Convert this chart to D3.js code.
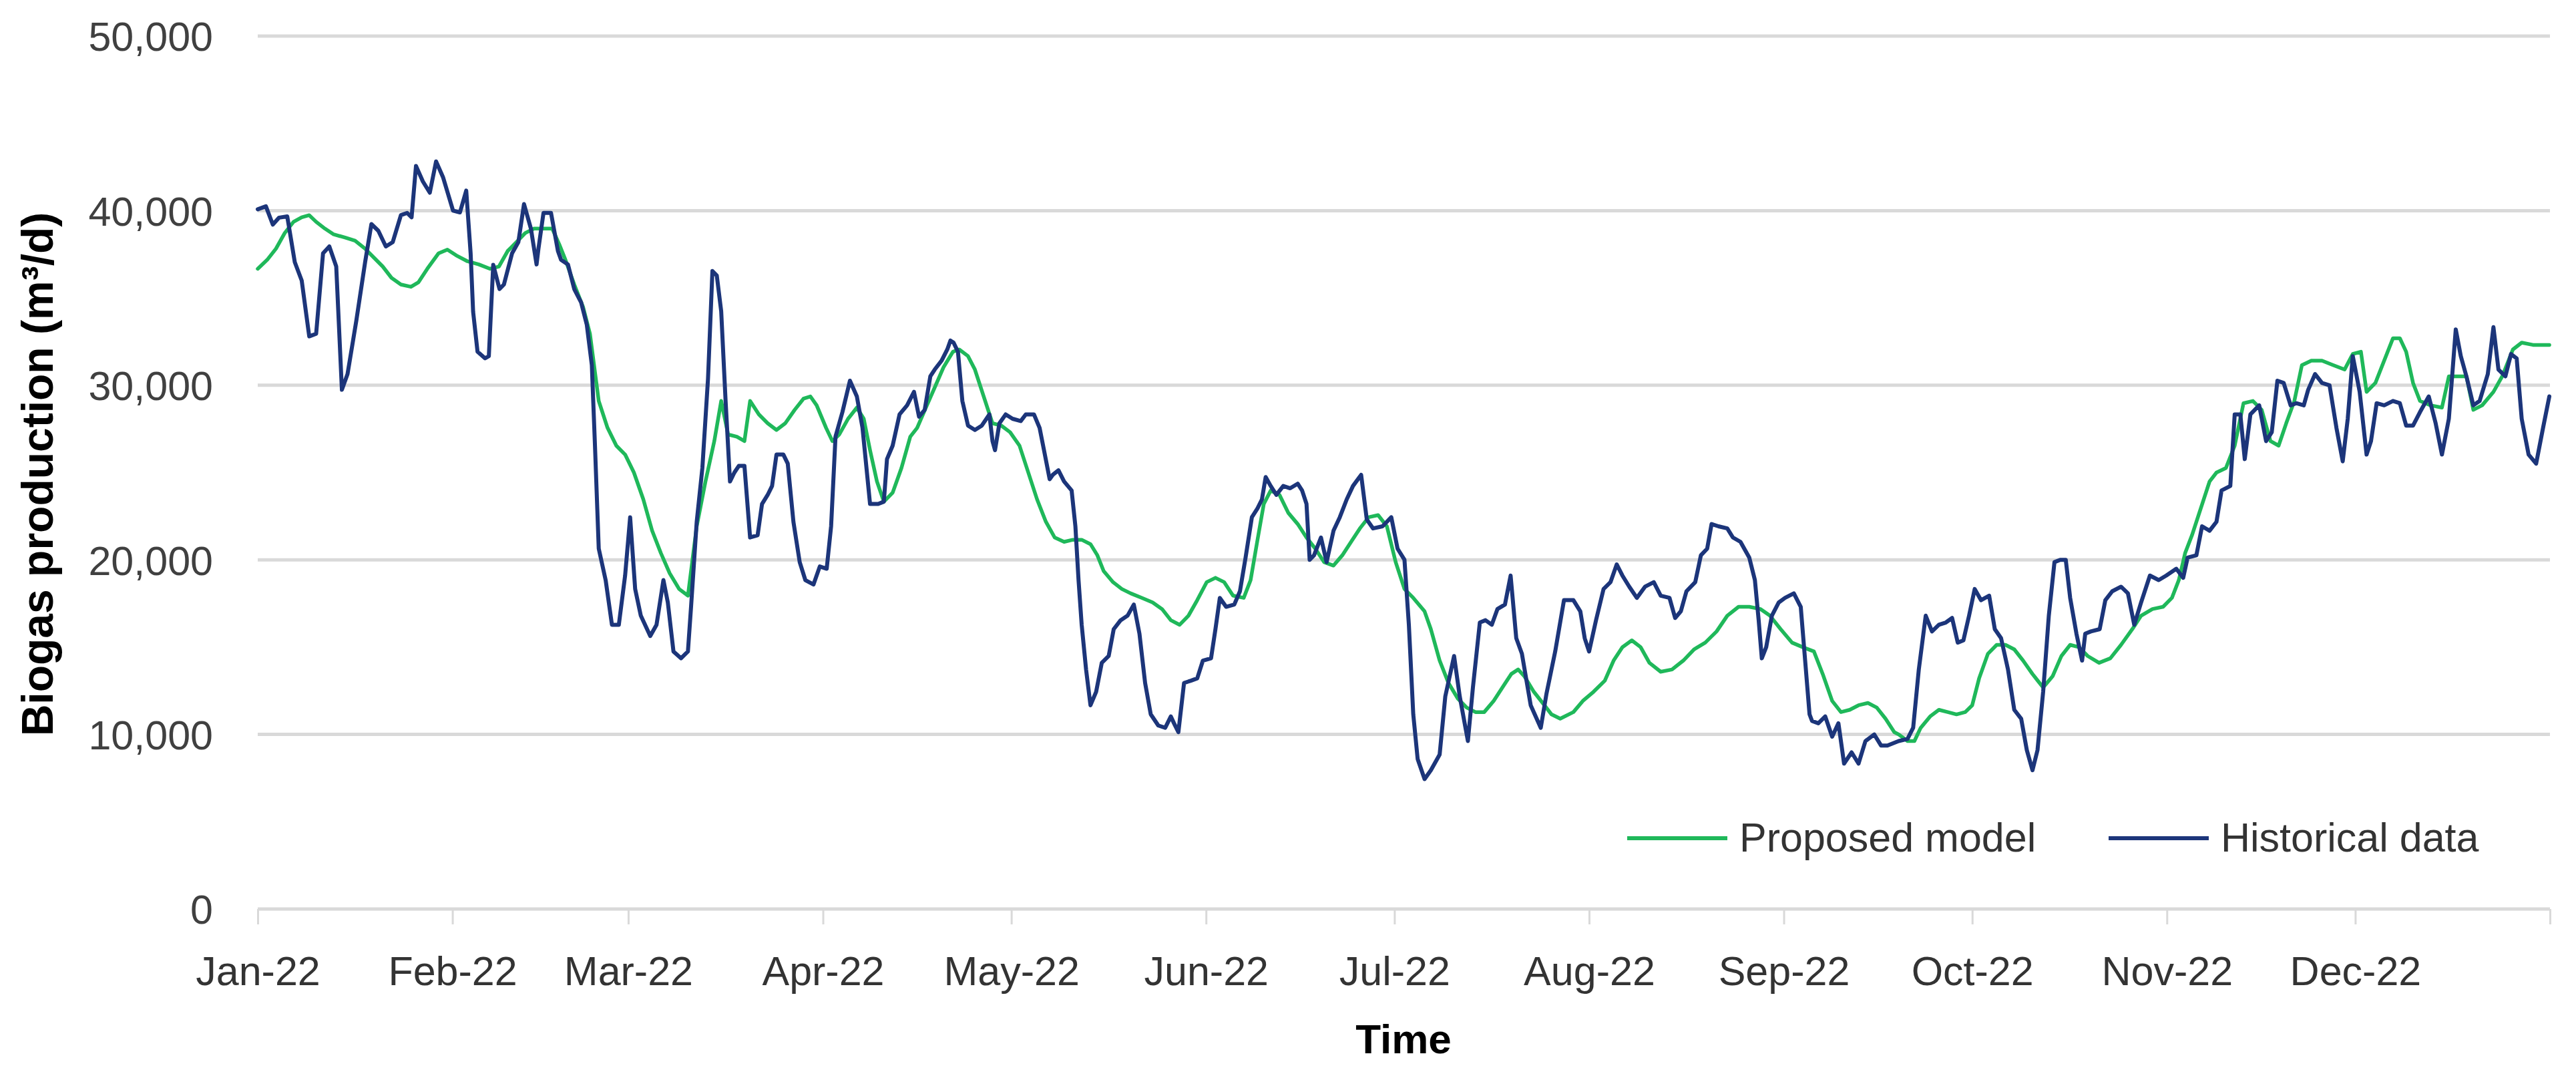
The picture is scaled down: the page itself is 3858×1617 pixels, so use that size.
<!DOCTYPE html>
<html><head><meta charset="utf-8">
<script src="https://cdn.jsdelivr.net/npm/d3@7"></script>
<style>html,body{margin:0;padding:0;background:#fff;} svg{display:block;}</style>
</head><body>
<svg id="chart" width="3858" height="1617"></svg>
<script>
// ---- data (day offset from 1 Jan 2022, biogas m3/d) ----
const histDay = [0,1.3,2.4,3.4,4.7,5.9,7.0,8.2,9.3,10.4,11.4,12.5,13.4,14.3,15.7,17.1,18.1,19.2,20.4,21.5,22.8,23.8,24.5,25.2,26.3,27.4,28.4,29.5,31.1,32.2,33.2,33.9,34.3,35.0,36.2,36.8,37.5,38.5,39.2,40.5,41.5,42.4,43.5,44.4,44.7,45.5,46.7,47.8,48.3,49.4,50.4,51.5,52.4,53.2,53.7,54.3,55.4,56.4,57.5,58.5,59.3,60.1,61.0,62.5,63.5,64.6,65.3,66.2,67.4,68.5,69.0,69.9,70.8,71.7,72.4,73.1,73.8,74.5,75.2,75.9,76.6,77.5,78.4,79.6,80.3,81.2,81.9,82.6,83.7,84.4,85.3,86.3,87.2,88.5,89.5,90.6,91.3,92.0,93.1,94.3,95.4,96.3,97.5,98.8,99.7,100.2,101.1,102.2,103.4,104.5,105.3,106.2,107.1,107.8,108.9,109.8,110.3,110.8,111.5,112.2,113.1,114.2,115.3,116.5,117.0,117.4,118.1,119.1,120.2,121.5,122.3,123.6,124.5,125.2,126.1,126.6,127.5,128.4,129.6,130.2,130.7,131.2,131.9,132.6,133.5,134.4,135.5,136.3,137.4,138.5,139.5,140.4,141.3,142.2,143.4,144.5,145.4,145.9,146.6,147.5,148.6,149.6,150.5,151.8,152.5,153.2,154.2,155.5,156.4,157.3,158.3,159.2,159.9,160.5,161.3,162.2,163.3,164.4,165.6,166.3,167.0,167.5,168.2,169.3,170.2,171.3,172.3,173.4,174.4,175.7,176.6,177.6,179.1,180.5,181.5,182.6,183.3,184.0,184.7,185.8,186.8,188.2,189.1,190.5,191.4,192.7,193.5,194.6,195.5,196.5,197.4,198.6,199.5,200.4,201.3,202.7,204.3,205.2,206.6,208.0,209.5,210.6,211.3,212.0,213.1,214.3,215.4,216.4,217.3,218.4,219.6,220.9,222.3,223.4,224.8,225.7,226.6,227.5,228.9,229.8,230.8,231.5,232.6,234.0,234.9,236.1,237.5,238.4,239.0,239.5,240.2,241.1,242.2,243.2,244.6,245.7,246.4,247.1,247.5,248.5,249.6,250.7,251.7,252.6,253.8,254.9,256.0,257.4,258.5,259.5,261.3,262.7,263.6,264.5,265.6,266.6,267.7,268.8,269.8,270.7,271.6,272.5,273.4,274.4,275.7,276.6,277.6,278.7,279.7,280.8,281.7,282.6,283.4,284.3,285.2,286.1,287.0,287.9,288.6,289.6,290.5,291.0,291.9,293.3,294.2,295.3,296.7,297.8,298.8,299.9,301.3,302.7,303.9,305.5,306.6,307.3,308.7,309.6,310.8,311.9,312.7,314.1,314.8,315.7,316.4,317.3,318.7,319.8,320.7,321.6,322.6,323.7,324.6,325.8,326.5,327.6,328.7,329.9,331.0,332.0,332.8,333.6,334.7,335.8,336.5,337.4,338.6,340.0,341.1,342.1,343.2,344.3,345.7,346.8,347.8,348.9,350.0,350.8,351.7,352.8,353.8,355.1,356.0,356.8,357.9,358.8,359.7,360.5,361.6,362.8,363.9,364.9];
const histValue = [40080,40250,39200,39600,39670,37050,36000,32800,32950,37560,37950,36800,29740,30640,33700,37050,39230,38850,37950,38200,39740,39870,39620,42560,41670,41030,42820,41920,40000,39900,41150,37560,34200,31920,31540,31670,36900,35510,35770,37560,38200,40380,38970,36920,37820,39870,39870,37690,37180,36920,35510,34740,33460,31150,26540,20640,18840,16280,16280,19100,22440,18330,16800,15640,16280,18840,17560,14750,14360,14750,17310,22180,25260,30380,36540,36280,34230,29100,24490,25000,25380,25380,21280,21410,23200,23720,24230,26030,26030,25510,22180,19870,18840,18590,19620,19490,21920,27050,28460,30260,29360,27560,23200,23200,23330,25770,26540,28330,28850,29620,28200,28590,30510,30900,31410,32050,32560,32440,31920,29100,27690,27440,27690,28330,26800,26280,27820,28330,28080,27950,28330,28330,27560,26280,24620,24870,25130,24490,23970,21920,18840,16280,13720,11670,12440,14100,14490,16030,16540,16800,17440,15770,12950,11150,10510,10380,11030,10640,10130,12950,13080,13210,14230,14360,16030,17820,17310,17440,18200,20130,22440,22950,23460,24740,24230,23720,24230,24100,24360,23970,23200,20000,20260,21280,19870,21670,22440,23460,24230,24870,22310,21800,21920,22440,20640,20000,16280,11150,8590,7440,7950,8850,12180,14490,12180,9620,12690,16410,16540,16280,17180,17440,19100,15510,14620,11670,10380,12310,14750,17690,17690,17050,15510,14750,16540,18330,18720,19740,19100,18460,17820,18460,18720,17950,17820,16670,17050,18200,18720,20260,20640,22050,21920,21800,21280,21030,20130,18840,16540,14360,15000,16800,17560,17820,18080,17310,14230,11150,10770,10640,11030,9870,10640,8330,8970,8330,9620,10000,9360,9360,9620,9740,10380,13720,16800,15900,16280,16410,16670,15260,15390,16800,18330,17690,17950,16030,15510,13720,11410,10900,9100,7950,9100,12440,16800,19870,20000,20000,17820,15770,14230,15770,15900,16030,17690,18200,18460,18080,16280,17560,19100,18840,19100,19490,18970,20130,20260,21920,21670,22180,23970,24230,28330,28330,25770,28330,28850,26800,27310,30260,30130,28850,28970,28850,29740,30640,30130,30000,27560,25640,28080,31670,29620,26030,26800,28970,28850,29100,28970,27690,27690,28460,29360,27820,26030,28080,33200,31670,30510,28850,29100,30640,33330,30900,30510,31790,31540,28080,26030,25510,27560,29360];
const modelDay = [0,1.5,2.9,4.3,5.7,7.0,8.2,9.3,10.7,12.1,13.9,15.5,17.1,18.5,19.9,21.3,22.8,24.4,25.6,27.0,28.8,30.2,31.6,33.4,35.2,37.0,38.4,39.8,41.2,42.6,44.0,45.5,46.9,48.0,49.0,50.4,51.8,52.9,54.3,55.7,57.1,58.5,59.9,61.4,62.8,64.2,65.6,67.1,68.5,69.9,71.3,72.7,73.8,74.9,76.3,77.5,78.4,79.8,81.2,82.6,84.0,85.5,86.9,88.0,89.0,90.5,91.5,92.6,94.0,95.4,96.5,97.5,98.6,99.7,101.1,102.5,103.9,105.0,106.4,107.8,109.2,110.7,111.7,113.1,114.2,115.6,117.0,118.4,119.8,121.3,122.7,124.1,125.5,126.9,128.4,129.8,131.2,132.6,133.7,134.7,136.2,137.6,139.0,140.8,142.5,144.0,145.4,146.8,148.2,149.6,151.1,152.5,153.9,155.3,157.0,158.1,159.2,160.2,161.3,162.7,164.1,165.6,167.0,168.4,169.8,171.3,172.7,174.1,175.5,176.9,178.4,179.8,181.2,182.6,184.0,185.8,186.8,188.2,189.6,191.1,192.5,193.9,195.3,196.8,198.2,199.6,200.7,201.7,203.2,204.6,206.0,207.4,209.5,211.0,212.7,214.5,215.9,217.3,218.8,220.2,221.6,223.4,225.2,227.0,228.7,230.5,232.3,234.0,235.8,237.5,239.3,240.8,242.5,244.3,246.0,247.8,249.2,250.7,252.1,253.5,254.9,256.4,257.8,259.2,260.6,261.3,262.7,263.8,264.8,266.3,267.7,269.1,270.5,271.9,273.0,274.1,275.5,276.9,278.3,279.7,281.1,282.6,284.3,285.8,287.2,288.6,290.0,291.4,293.2,295.0,296.7,298.5,299.9,301.7,303.4,304.8,305.9,306.9,308.0,309.4,310.8,311.9,313.4,314.8,316.2,317.7,319.1,320.5,321.8,323.0,324.3,325.5,327.0,328.7,330.5,332.3,333.6,334.9,335.8,337.2,338.6,340.0,341.1,342.1,343.2,344.3,346.0,347.8,348.9,350.3,351.7,352.8,354.2,356.0,357.4,359.1,360.5,362.3,364.9];
const modelValue = [36670,37180,37820,38720,39360,39620,39740,39360,38970,38640,38460,38280,37820,37310,36800,36150,35770,35640,35900,36670,37560,37770,37440,37100,36920,36670,36800,37690,38200,38720,38970,38970,38970,38080,37180,35770,34490,32950,29100,27560,26540,26030,25000,23460,21670,20380,19230,18330,17950,21920,24490,26800,29100,27180,27050,26800,29100,28330,27820,27440,27820,28590,29230,29360,28850,27560,26800,27180,28080,28720,28080,26280,24490,23330,23850,25260,27050,27560,28720,29870,31030,31920,32050,31670,30900,29360,27820,27690,27310,26540,25000,23460,22180,21280,21030,21150,21150,20900,20260,19360,18720,18330,18080,17820,17560,17180,16540,16280,16800,17690,18720,18970,18720,17950,17820,18840,21150,23200,23970,23720,22690,22050,21280,20640,19870,19670,20260,21030,21800,22440,22560,21920,19870,18330,17820,17050,16030,14230,12950,12050,11540,11280,11280,11920,12690,13460,13720,13330,12440,11800,11150,10900,11280,11920,12440,13080,14230,15000,15390,15000,14100,13590,13720,14230,14870,15260,15900,16800,17310,17310,17180,16800,16030,15260,15000,14750,13460,11920,11280,11410,11670,11800,11540,10900,10130,10000,9620,9620,10380,11030,11410,11280,11150,11280,11670,13210,14620,15130,15130,14870,14230,13460,12690,13330,14490,15130,15000,14490,14100,14360,15130,16030,16800,17180,17310,17820,18840,20380,21410,22950,24490,25000,25260,26540,28970,29100,28590,26800,26540,27820,29100,31150,31410,31410,31150,30900,31790,31920,29620,30130,31410,32690,32690,31920,30130,29100,28850,28720,30510,30510,30510,28590,28850,29620,30510,32050,32440,32310,32310];
const yTicks = [0, 10000, 20000, 30000, 40000, 50000];
const monthLabels = ["Jan-22","Feb-22","Mar-22","Apr-22","May-22","Jun-22","Jul-22","Aug-22","Sep-22","Oct-22","Nov-22","Dec-22"];
const seriesNames = ["Proposed model", "Historical data"];
const yTitle = "Biogas production (m³/d)";
const xTitle = "Time";

// ---- drawing ----
const svg = d3.select("#chart");
const start = new Date(2022, 0, 1);
const end = new Date(2023, 0, 1);
const toDate = d => new Date(start.getTime() + d * 864e5);

const x = d3.scaleTime().domain([start, end]).range([386, 3819]);
const y = d3.scaleLinear().domain([0, 50000]).range([1361, 54]);
const FONT = "'Liberation Sans', Arial, sans-serif";
const GRID = "#d9d9d9";
const GREEN = "#1fb85a";
const BLUE = "#1c357a";

// gridlines
svg.append("g").selectAll("line").data(yTicks).join("line")
  .attr("x1", x.range()[0]).attr("x2", x.range()[1])
  .attr("y1", d => y(d)).attr("y2", d => y(d))
  .attr("stroke", GRID).attr("stroke-width", 5);

// y axis labels
const yAxis = d3.axisLeft(y).tickValues(yTicks).tickFormat(d3.format(",")).tickSize(0).tickPadding(0);
const gy = svg.append("g").attr("transform", "translate(319,0)").call(yAxis);
gy.select(".domain").remove();
gy.selectAll("text").attr("font-family", FONT).attr("font-size", 61).attr("fill", "#404040").attr("dy", "0.36em");

// x axis
const months = d3.timeMonth.range(start, d3.timeDay.offset(end, 1));
const xAxis = d3.axisBottom(x).tickValues(months)
  .tickFormat((d, i) => monthLabels[i] || "").tickSize(23).tickPadding(0);
const gx = svg.append("g").attr("transform", "translate(0,1361)").call(xAxis);
gx.select(".domain").remove();
gx.selectAll(".tick line").attr("stroke", GRID).attr("stroke-width", 3);
gx.selectAll("text").attr("font-family", FONT).attr("font-size", 61).attr("fill", "#333")
  .attr("y", 114).attr("dy", 0);

// lines
const line = d3.line().x(d => x(toDate(d[0]))).y(d => y(d[1]));
const modelPts = modelDay.map((d, i) => [d, modelValue[i]]);
const histPts = histDay.map((d, i) => [d, histValue[i]]);
svg.append("path").datum(modelPts).attr("d", line).attr("fill", "none")
  .attr("stroke", GREEN).attr("stroke-width", 5.5).attr("stroke-linejoin", "round").attr("stroke-linecap", "round");
svg.append("path").datum(histPts).attr("d", line).attr("fill", "none")
  .attr("stroke", BLUE).attr("stroke-width", 6).attr("stroke-linejoin", "round").attr("stroke-linecap", "round");

// legend
const legend = [
  {name: seriesNames[0], color: GREEN, x0: 2437},
  {name: seriesNames[1], color: BLUE, x0: 3158}
];
const lg = svg.append("g").selectAll("g").data(legend).join("g")
  .attr("transform", d => `translate(${d.x0},1255)`);
lg.append("line").attr("x1", 0).attr("x2", 150).attr("y1", 0).attr("y2", 0)
  .attr("stroke", d => d.color).attr("stroke-width", 6);
lg.append("text").attr("x", 168).attr("y", 20).text(d => d.name)
  .attr("font-family", FONT).attr("font-size", 61).attr("fill", "#333");

// axis titles
svg.append("text").attr("transform", "translate(79,710) rotate(-90)")
  .attr("text-anchor", "middle").attr("font-family", FONT).attr("font-weight", "bold")
  .attr("font-size", 66).attr("fill", "#000").text(yTitle);
svg.append("text").attr("x", 2102).attr("y", 1577).attr("text-anchor", "middle")
  .attr("font-family", FONT).attr("font-weight", "bold").attr("font-size", 62)
  .attr("fill", "#000").text(xTitle);
</script>
</body></html>
